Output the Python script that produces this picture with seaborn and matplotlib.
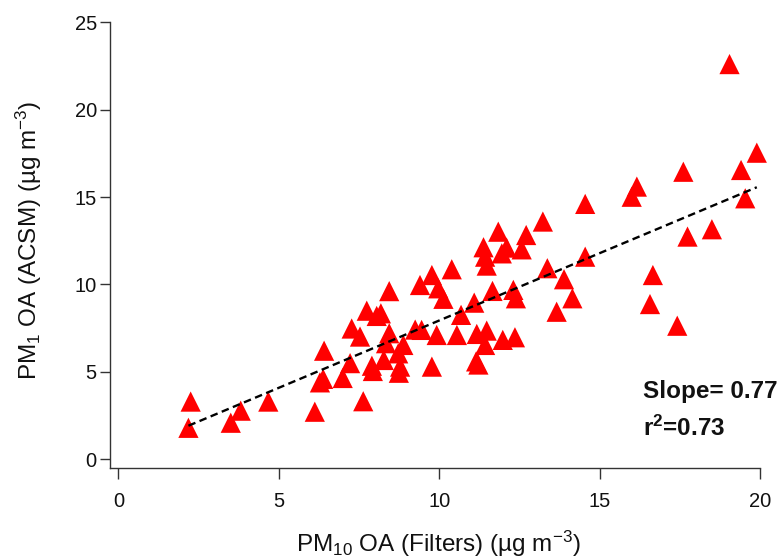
import numpy as np
import pandas as pd
import matplotlib
matplotlib.use("Agg")
import matplotlib.pyplot as plt
import seaborn as sns

# PM10 OA from filters vs PM1 OA from ACSM (µg m-3)
pm10_filters = [
    2.18, 2.25, 3.50, 3.81, 4.67, 6.12, 6.28, 6.38, 6.41, 6.99,
    7.22, 7.27, 7.53, 7.63, 7.74, 7.90, 7.93, 8.05, 8.18, 8.27,
    8.34, 8.44, 8.44, 8.72, 8.74, 8.78, 8.88, 9.25, 9.40, 9.45,
    9.77, 9.77, 9.92, 9.97, 10.13, 10.39, 10.55, 10.68, 11.09, 11.17,
    11.15, 11.22, 11.38, 11.43, 11.48, 11.43, 11.48, 11.66, 11.84, 11.95,
    11.98, 12.10, 12.31, 12.36, 12.39, 12.57, 12.71, 13.23, 13.37, 13.66,
    13.89, 14.15, 14.55, 14.55, 16.00, 16.16, 16.57, 16.66, 17.42, 17.61,
    17.74, 18.50, 19.05, 19.41, 19.54, 19.90,
]
pm1_acsm = [
    1.80, 3.30, 2.09, 2.78, 3.30, 2.72, 4.40, 4.60, 6.21, 4.65,
    5.50, 7.48, 7.02, 3.32, 8.50, 5.35, 5.05, 8.20, 8.35, 5.68,
    6.64, 7.21, 9.62, 6.06, 4.95, 5.30, 6.54, 7.42, 9.97, 7.40,
    10.54, 5.30, 7.11, 9.78, 9.18, 10.87, 7.11, 8.26, 8.96, 7.17,
    5.60, 5.42, 12.13, 11.59, 11.08, 6.54, 7.36, 9.63, 13.02, 11.78,
    6.83, 12.11, 9.69, 6.98, 9.21, 12.01, 12.83, 13.60, 10.93, 8.44,
    10.30, 9.21, 14.61, 11.59, 15.02, 15.60, 8.88, 10.54, 7.64, 16.45,
    12.74, 13.16, 22.61, 16.55, 14.93, 17.54,
]

# Linear fit parameters
fit_slope = 0.77
fit_intercept = 0.24
fit_r2 = 0.73

x_ticks = [0, 5, 10, 15, 20]
y_ticks = [0, 5, 10, 15, 20, 25]

df = pd.DataFrame({"filters": pm10_filters, "acsm": pm1_acsm})
x_fit = np.array([min(pm10_filters), max(pm10_filters)])
fit_df = pd.DataFrame({"x": x_fit, "y": fit_slope * x_fit + fit_intercept})

sns.set_theme(style="ticks")
plt.rcParams["font.family"] = ["Liberation Sans", "DejaVu Sans"]
plt.rcParams["mathtext.default"] = "regular"

fig = plt.figure(figsize=(7.82, 5.6), dpi=100)
fig.patch.set_facecolor("white")
ax = fig.add_axes([110 / 782, 92 / 560, 650 / 782, 445.7 / 560])
ax.set_facecolor("white")

sns.lineplot(data=fit_df, x="x", y="y", ax=ax, color="black", lw=1.7,
             linestyle=(0, (3.2, 1.9)), zorder=3)
sns.scatterplot(data=df, x="filters", y="acsm", ax=ax, marker="^", s=212,
                color="#ff0000", edgecolor="none", linewidth=0, zorder=2,
                clip_on=False)

ax.set_xlim(-0.265, 20)
ax.set_ylim(-0.5, 25)
ax.set_xticks(x_ticks)
ax.set_yticks(y_ticks)

for side in ("top", "right"):
    ax.spines[side].set_visible(False)
for side in ("left", "bottom"):
    ax.spines[side].set_color("#333333")
    ax.spines[side].set_linewidth(1.0)

ax.tick_params(axis="x", direction="out", length=8, width=1, color="#333333",
               pad=9, labelsize=14.5, labelcolor="#111111")
ax.tick_params(axis="y", direction="out", length=7.5, width=1, color="#333333",
               pad=2, labelsize=14.5, labelcolor="#111111")

ax.set_xlabel("PM$_{10}$ OA (Filters) (µg m$^{-3}$)", fontsize=17.5, color="#111111")
ax.set_ylabel("PM$_{1}$ OA (ACSM) (µg m$^{-3}$)", fontsize=17.5, color="#111111")
ax.xaxis.label.set_va("center")
ax.yaxis.label.set_va("center")
ax.xaxis.set_label_coords(0.505, -0.17)
ax.yaxis.set_label_coords(-0.125, 0.51)

ax.text(0.8195, 0.1577, f"Slope= {fit_slope:.2f}", transform=ax.transAxes,
        fontsize=17.5, fontweight="bold", ha="left", va="baseline", color="#111111")
ax.text(0.8195, 0.0718, f"r$^{{2}}$={fit_r2:.2f}", transform=ax.transAxes,
        fontsize=17.5, fontweight="bold", ha="left", va="baseline", color="#111111")

fig.savefig("out.png", dpi=100, facecolor="white")
